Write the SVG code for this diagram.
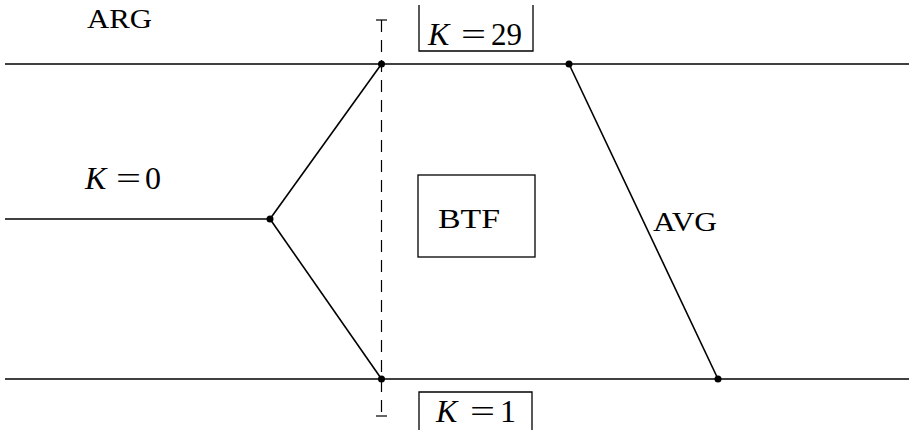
<svg xmlns="http://www.w3.org/2000/svg" width="914" height="430" viewBox="0 0 914 430">
<style>
.ln{stroke:#000;stroke-width:1.6;fill:none}
.bx{stroke:#000;stroke-width:1.3;fill:none}
.t{font-family:"Liberation Serif","DejaVu Serif",serif;font-size:28px;fill:#000}
.k{font-family:"Liberation Serif","DejaVu Serif",serif;font-size:32px;fill:#000}
.i{font-style:italic}
</style>
<rect width="914" height="430" fill="#fff"/>
<g id="connectors">
<line class="ln" x1="5" y1="64" x2="909" y2="64"/>
<line class="ln" x1="5" y1="379" x2="909" y2="379"/>
<line class="ln" x1="5" y1="219" x2="270" y2="219"/>
<line class="ln" x1="270" y1="219" x2="381.5" y2="64"/>
<line class="ln" x1="270" y1="219" x2="381.5" y2="379"/>
<line class="ln" x1="569" y1="64" x2="718" y2="379"/>
<line x1="381.5" y1="20" x2="381.5" y2="416" stroke="#000" stroke-width="1.2" stroke-dasharray="12,8"/>
<line x1="376" y1="20" x2="387" y2="20" stroke="#000" stroke-width="1.2"/>
<line x1="376" y1="416" x2="387" y2="416" stroke="#000" stroke-width="1.2"/>
</g>
<g id="dots">
<circle cx="381.5" cy="64" r="3.5"/>
<circle cx="569" cy="64" r="3.5"/>
<circle cx="270" cy="219" r="3.5"/>
<circle cx="381.5" cy="379" r="3.5"/>
<circle cx="718" cy="379" r="3.5"/>
</g>
<g id="ARG"><text class="t" x="87" y="28" textLength="65" lengthAdjust="spacingAndGlyphs">ARG</text></g>
<g id="K0">
<text class="k i" x="85" y="189">K</text>
<text class="k" x="116" y="189" textLength="25" lengthAdjust="spacingAndGlyphs">=</text>
<text class="k" x="145" y="189">0</text>
</g>
<g id="K29">
<path class="bx" d="M419,5 V51 H533 V5"/>
<text class="k i" x="428" y="45">K</text>
<text class="k" x="461" y="45" textLength="25" lengthAdjust="spacingAndGlyphs">=</text>
<text class="k" x="491" y="45" textLength="31" lengthAdjust="spacingAndGlyphs">29</text>
</g>
<g id="BTF">
<rect class="bx" x="418" y="175" width="117" height="82"/>
<text class="t" x="438" y="228" textLength="62" lengthAdjust="spacingAndGlyphs">BTF</text>
</g>
<g id="AVG"><text class="t" x="653" y="231" textLength="64" lengthAdjust="spacingAndGlyphs">AVG</text></g>
<g id="K1">
<path class="bx" d="M419,432 V392 H532 V432"/>
<text class="k i" x="436" y="422">K</text>
<text class="k" x="470" y="422" textLength="25" lengthAdjust="spacingAndGlyphs">=</text>
<text class="k" x="500" y="422">1</text>
</g>
</svg>
